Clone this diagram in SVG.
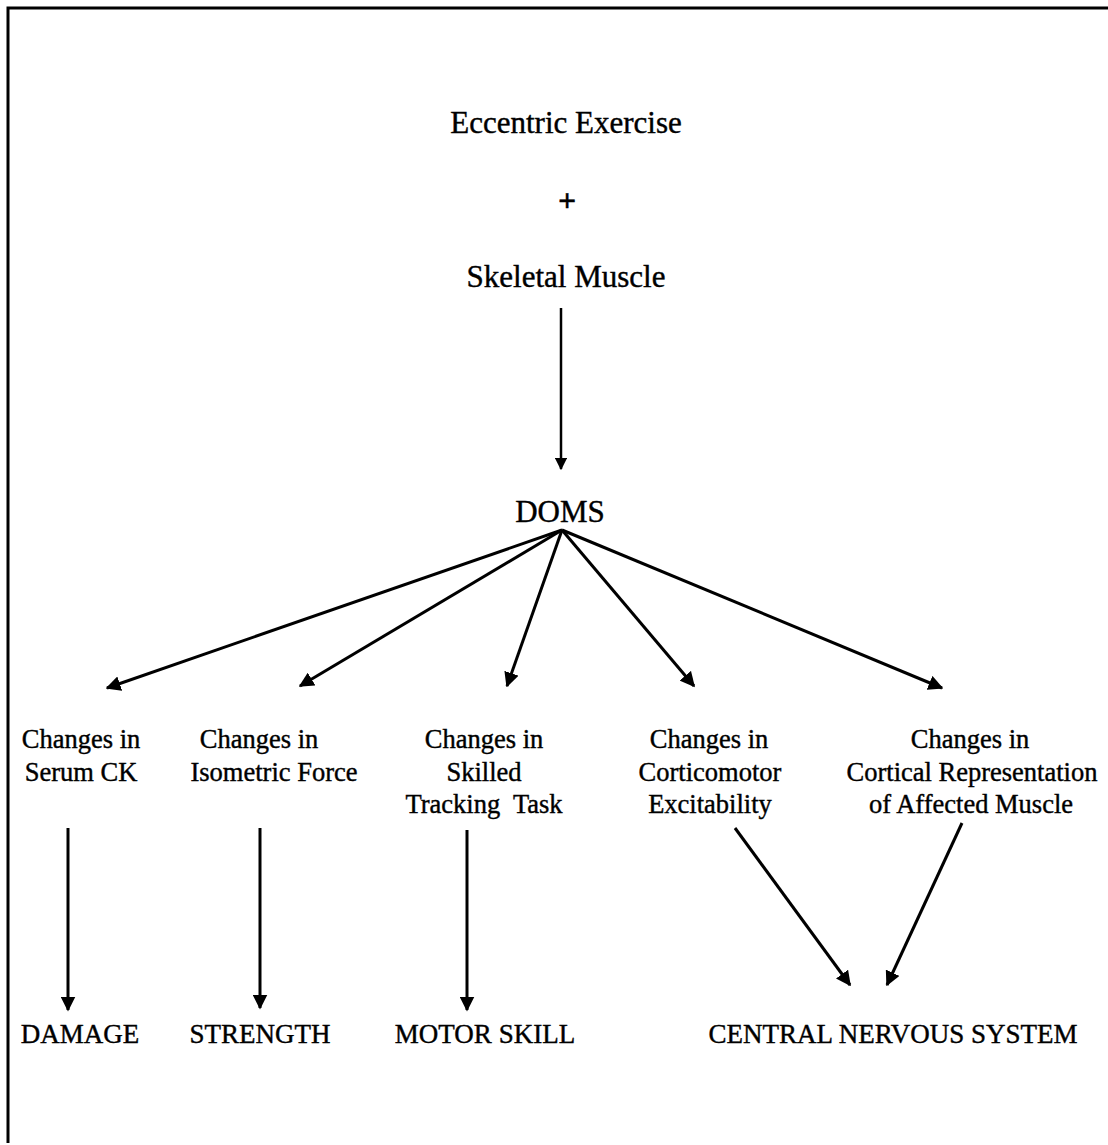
<svg xmlns="http://www.w3.org/2000/svg" width="1108" height="1145" viewBox="0 0 1108 1145">
<style>
text{font-family:"Liberation Serif","Times New Roman",serif;fill:#000;text-anchor:middle;stroke:#000;stroke-width:0.4}
.t1{font-size:31px}
.tp{font-size:32px;font-weight:bold}
.t2{font-size:26.5px}
.t3{font-size:27px}
.c{stroke:#000;stroke-width:3;fill:none}
.f{stroke:#000;stroke-width:2.5;fill:none}
</style>
<defs>
<marker id="ah" viewBox="0 0 10 10" refX="9" refY="5" markerWidth="5" markerHeight="5" orient="auto" markerUnits="strokeWidth">
<path d="M0,0 L10,5 L0,10 z" fill="#000"/>
</marker>
</defs>
<rect width="1108" height="1145" fill="#fff"/>
<g id="frame">
<path d="M8,1143 L8,8 L1108,8" stroke="#000" stroke-width="3" fill="none"/>
</g>
<g id="n-eccentric"><text class="t1" x="566" y="133">Eccentric Exercise</text></g>
<g id="n-plus"><text class="tp" x="567" y="211">+</text></g>
<g id="n-skeletal"><text class="t1" x="566" y="287">Skeletal Muscle</text></g>
<g id="n-doms"><text class="t1" x="560" y="522">DOMS</text></g>
<g id="n-ck"><text class="t2" x="81" y="748">Changes in</text><text class="t2" x="81" y="781">Serum CK</text></g>
<g id="n-force"><text class="t2" x="259" y="748">Changes in</text><text class="t2" x="274" y="781">Isometric Force</text></g>
<g id="n-skill"><text class="t2" x="484" y="748">Changes in</text><text class="t2" x="484" y="781">Skilled</text><text class="t2" x="484" y="813" xml:space="preserve">Tracking  Task</text></g>
<g id="n-cortico"><text class="t2" x="709" y="748">Changes in</text><text class="t2" x="710" y="781">Corticomotor</text><text class="t2" x="710" y="813">Excitability</text></g>
<g id="n-cortical"><text class="t2" x="970" y="748">Changes in</text><text class="t2" x="972" y="781">Cortical Representation</text><text class="t2" x="971" y="813">of Affected Muscle</text></g>
<g id="n-damage"><text class="t3" x="80" y="1043">DAMAGE</text></g>
<g id="n-strength"><text class="t3" x="260" y="1043">STRENGTH</text></g>
<g id="n-motor"><text class="t3" x="485" y="1043">MOTOR SKILL</text></g>
<g id="n-cns"><text class="t3" x="893" y="1043">CENTRAL NERVOUS SYSTEM</text></g>
<g id="connectors">
<line class="f" x1="561" y1="308" x2="561" y2="469" marker-end="url(#ah)"/>
<line class="c" x1="562" y1="530" x2="107" y2="688" marker-end="url(#ah)"/>
<line class="c" x1="562" y1="530" x2="300" y2="686" marker-end="url(#ah)"/>
<line class="c" x1="562" y1="530" x2="507" y2="686" marker-end="url(#ah)"/>
<line class="c" x1="562" y1="530" x2="694" y2="686" marker-end="url(#ah)"/>
<line class="c" x1="562" y1="530" x2="942" y2="688" marker-end="url(#ah)"/>
<line class="c" x1="68" y1="828" x2="68" y2="1010" marker-end="url(#ah)"/>
<line class="c" x1="260" y1="828" x2="260" y2="1008" marker-end="url(#ah)"/>
<line class="c" x1="467" y1="830" x2="467" y2="1010" marker-end="url(#ah)"/>
<line class="c" x1="735" y1="828" x2="850" y2="985" marker-end="url(#ah)"/>
<line class="c" x1="962" y1="823" x2="887" y2="985" marker-end="url(#ah)"/>
</g>
</svg>
